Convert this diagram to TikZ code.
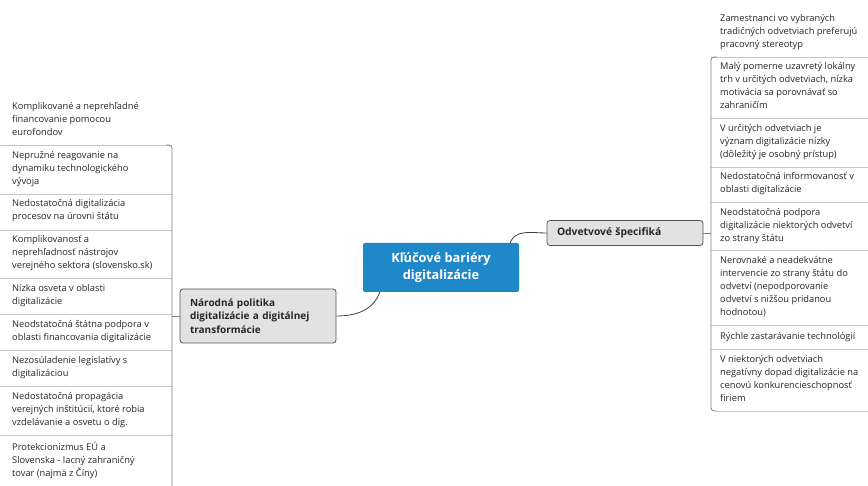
\documentclass[tikz,border=0pt]{standalone}
\usepackage{fontspec}
\setmainfont{Open Sans}
\usetikzlibrary{positioning}
\definecolor{rootblue}{RGB}{30,136,200}
\definecolor{branchfill}{RGB}{226,226,226}
\definecolor{branchline}{RGB}{85,85,85}
\begin{document}
\begin{tikzpicture}[x=1pt, y=1pt,
		leaf/.style={inner xsep=12pt, inner ysep=5.75pt, align=left, text=black!85,
			font=\fontsize{9.3}{13}\selectfont,
			execute at begin node=\strut, execute at end node=\strut},
		leafR/.style={leaf, inner xsep=9pt, inner ysep=5.5pt},
		root/.style={rectangle, rounded corners=2pt, fill=rootblue, text=white, align=center,
			minimum width=156pt, minimum height=49pt, font=\fontsize{12.8}{17}\selectfont\bfseries},
		branch/.style={rectangle, rounded corners=3pt, fill=branchfill, draw=branchline, thick,
			text width=136pt, align=left, inner xsep=10pt, text=black!85,
			font=\fontsize{10}{13.5}\selectfont\bfseries},
		sep/.style={draw=black!22, line width=0.6pt},
		trunk/.style={draw=black!50, line width=0.8pt},
		link/.style={draw=black!75, line width=0.8pt}]
		\useasboundingbox (0,0) rectangle (868,-486);
		\clip (0,0) rectangle (868,-486);
		\coordinate (tL) at (172,-145);
		\coordinate (bL) at (172,-486);
		\coordinate (tR) at (711,-57);
		\coordinate (eR) at (868,-57);
		% centre and the two branches
		\node[root] (root) at (441,-267.5) {Kľúčové bariéry\\digitalizácie};
		\node[branch, minimum height=54pt] (politika) at (258,-316) {Národná politika\\digitalizácie a digitálnej\\transformácie};
		\node[branch, minimum height=25pt] (odvetvia) at (625,-233) {\fontsize{10.3}{13}\selectfont Odvetvové špecifiká};
		% left leaves
		\node[leaf, anchor=south west] (l1) at (0,-145) {Komplikované a neprehľadné\\financovanie pomocou\\eurofondov};
		\node[leaf, below=0pt of l1.south west, anchor=north west] (l2) {Nepružné reagovanie na\\dynamiku technologického\\vývoja};
		\node[leaf, below=0pt of l2.south west, anchor=north west] (l3) {Nedostatočná digitalizácia\\procesov na úrovni štátu};
		\node[leaf, below=0pt of l3.south west, anchor=north west] (l4) {Komplikovanosť a\\neprehľadnosť nástrojov\\verejného sektora (slovensko.sk)};
		\node[leaf, below=0pt of l4.south west, anchor=north west] (l5) {Nízka osveta v oblasti\\digitalizácie};
		\node[leaf, below=0pt of l5.south west, anchor=north west] (l6) {Neodstatočná štátna podpora v\\oblasti financovania digitalizácie};
		\node[leaf, below=0pt of l6.south west, anchor=north west] (l7) {Nezosúladenie legislatívy s\\digitalizáciou};
		\node[leaf, below=0pt of l7.south west, anchor=north west] (l8) {Nedostatočná propagácia\\verejných inštitúcií, ktoré robia\\vzdelávanie a osvetu o dig.};
		\node[leaf, below=0pt of l8.south west, anchor=north west] (l9) {Protekcionizmus EÚ a\\Slovenska - lacný zahraničný\\tovar (najmä z Číny)};
		% right leaves
		\node[leafR, anchor=south west] (r1) at (tR) {Zamestnanci vo vybraných\\tradičných odvetviach preferujú\\pracovný stereotyp};
		\node[leafR, below=0pt of r1.south west, anchor=north west] (r2) {Malý pomerne uzavretý lokálny\\trh v určitých odvetviach, nízka\\motivácia sa porovnávať so\\zahraničím};
		\node[leafR, below=0pt of r2.south west, anchor=north west] (r3) {V určitých odvetviach je\\význam digitalizácie nízky\\(dôležitý je osobný prístup)};
		\node[leafR, below=0pt of r3.south west, anchor=north west] (r4) {Nedostatočná informovanosť v\\oblasti digitalizácie};
		\node[leafR, below=0pt of r4.south west, anchor=north west] (r5) {Neodstatočná podpora\\digitalizácie niektorých odvetví\\zo strany štátu};
		\node[leafR, below=0pt of r5.south west, anchor=north west] (r6) {Nerovnaké a neadekvátne\\intervencie zo strany štátu do\\odvetví (nepodporovanie\\odvetví s nižšou pridanou\\hodnotou)};
		\node[leafR, below=0pt of r6.south west, anchor=north west] (r7) {Rýchle zastarávanie technológií};
		\node[leafR, below=0pt of r7.south west, anchor=north west] (r8) {V niektorých odvetviach\\negatívny dopad digitalizácie na\\cenovú konkurencieschopnosť\\firiem};
		% separators and trunks
		\foreach \n in {1,...,8} \draw[sep] (l\n.south west) -- (l\n.south west -| tL);
		\foreach \n in {1,...,7} \draw[sep] (r\n.south west) -- (r\n.south west -| eR);
		\draw[sep] ([xshift=6pt]r8.south west) -- (r8.south west -| eR);
		\draw[trunk, rounded corners=3pt] ([xshift=-6pt]tL) -- (tL) -- (bL);
		\draw[trunk, rounded corners=3pt] ([xshift=6pt]tR) -- (tR) -- (r8.south west) -- ([xshift=6pt]r8.south west);
		\draw[trunk] (politika.west) -- (politika.west -| tL);
		\draw[trunk] (odvetvia.east) -- (odvetvia.east -| tR);
		% links from the centre
		\draw[link] ([xshift=17pt]root.south west) to[out=-110, in=0] (politika.east);
		\draw[link] ([xshift=-9pt]root.north east) to[out=70, in=180] (odvetvia.west);
	\end{tikzpicture}
\end{document}
